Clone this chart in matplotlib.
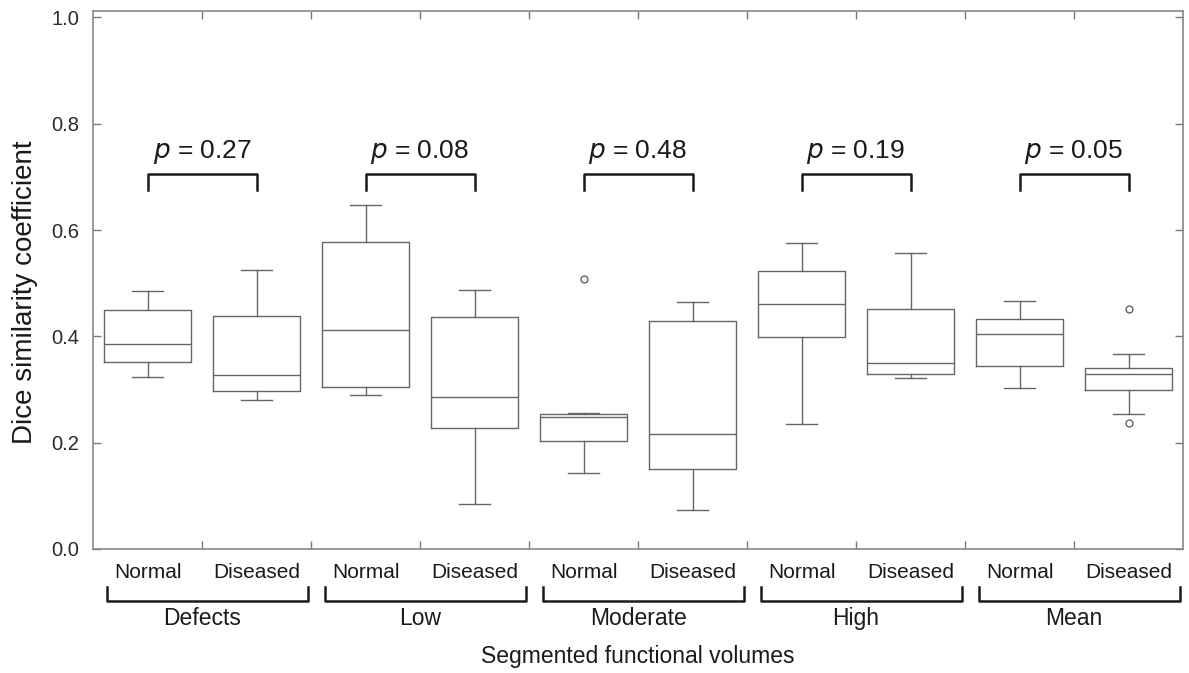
import matplotlib.pyplot as plt
import matplotlib.transforms as mtransforms

plt.rcParams['font.family'] = ['Liberation Sans', 'DejaVu Sans']

# values, one entry per box (left to right)
groups = ['Defects', 'Low', 'Moderate', 'High', 'Mean']
conditions = ['Normal', 'Diseased']
p_values = ['0.27', '0.08', '0.48', '0.19', '0.05']

whis_hi = [0.486, 0.524, 0.648, 0.487, 0.256, 0.465, 0.575, 0.556, 0.467, 0.367]
q3 = [0.449, 0.438, 0.577, 0.437, 0.254, 0.429, 0.523, 0.451, 0.433, 0.340]
medians = [0.386, 0.328, 0.412, 0.285, 0.249, 0.216, 0.461, 0.349, 0.405, 0.329]
q1 = [0.352, 0.298, 0.304, 0.228, 0.203, 0.151, 0.398, 0.329, 0.345, 0.300]
whis_lo = [0.323, 0.281, 0.289, 0.084, 0.143, 0.073, 0.235, 0.321, 0.303, 0.254]
outliers = [[], [], [], [], [0.507], [], [], [], [], [0.451, 0.237]]

stats = []
for i in range(len(medians)):
    stats.append({'med': medians[i], 'q1': q1[i], 'q3': q3[i],
                  'whislo': whis_lo[i], 'whishi': whis_hi[i],
                  'fliers': outliers[i]})

fig = plt.figure(figsize=(11.89, 6.73), dpi=100)
ax = fig.add_axes([93 / 1189, 1 - 549 / 673, 1090 / 1189, 538 / 673])

line_c = '#666666'
pos = list(range(1, len(stats) + 1))
ax.bxp(stats, positions=pos, widths=0.8, capwidths=0.28, showfliers=True,
       boxprops=dict(color=line_c, linewidth=1.0),
       whiskerprops=dict(color=line_c, linewidth=1.0),
       capprops=dict(color=line_c, linewidth=1.0),
       medianprops=dict(color=line_c, linewidth=1.0),
       flierprops=dict(marker='o', markersize=5, markerfacecolor='none',
                       markeredgecolor='#555555', markeredgewidth=0.9))

ax.set_xlim(0.5, 10.5)
ax.set_ylim(0, 1.012)
ax.set_yticks([0.0, 0.2, 0.4, 0.6, 0.8, 1.0])
ax.set_xticks([x + 0.5 for x in pos[:-1]])
ax.set_xticklabels([])
ax.tick_params(direction='in', length=6, width=1.0, color='#777777',
               top=True, right=True, labelsize=14.5, labelcolor='#2a2a2a')
ax.tick_params(axis='y', pad=10)
for s in ax.spines.values():
    s.set_color('#888888')
    s.set_linewidth(1.2)

ax.set_ylabel('Dice similarity coefficient', fontsize=20, color='#1a1a1a')
ax.yaxis.set_label_coords(-0.050, 0.478)

# p-value brackets above each pair
for k, p in enumerate(p_values):
    x0, x1 = pos[2 * k], pos[2 * k + 1]
    ax.plot([x0, x0, x1, x1], [0.675, 0.706, 0.706, 0.675],
            color='#1a1a1a', linewidth=1.8, clip_on=False)
    ax.text((x0 + x1) / 2, 0.746, '$p$ = ' + p, ha='center', va='center',
            fontsize=19, color='#1a1a1a')

# condition labels and group brackets under the axis
trans = mtransforms.blended_transform_factory(ax.transData, ax.transAxes)
for i, x in enumerate(pos):
    ax.text(x, -0.043, conditions[i % 2], transform=trans, ha='center',
            va='center', fontsize=15, color='#1a1a1a')
for k, g in enumerate(groups):
    xa = 0.63 + 2 * k
    xb = 2.47 + 2 * k
    ax.plot([xa, xa, xb, xb], [-0.070, -0.097, -0.097, -0.070],
            transform=trans, color='#1a1a1a', linewidth=1.8, clip_on=False)
    ax.text(1.5 + 2 * k, -0.130, g, transform=trans, ha='center',
            va='center', fontsize=16.5, color='#1a1a1a')

ax.text(0.5, -0.200, 'Segmented functional volumes', transform=ax.transAxes,
        ha='center', va='center', fontsize=16.5, color='#1a1a1a')

fig.savefig('out.png', dpi=100)
